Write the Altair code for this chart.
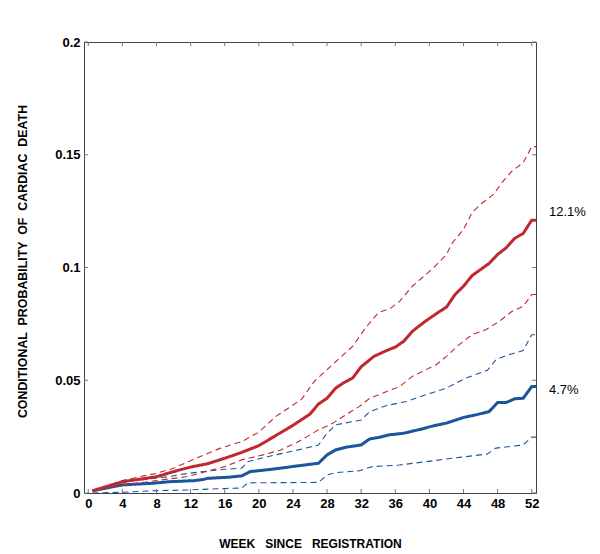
import altair as alt
import pandas as pd

# ---- data ----
red_est_x = [0.5, 4, 8, 10, 12, 14, 16, 18, 20, 22, 24, 26, 27, 28, 29, 30, 31, 32, 33.5, 35, 36, 37, 38, 39.5, 41, 42, 43, 44, 45, 46, 47, 48, 49, 50, 51, 52, 52.5]
red_est_y = [0.001, 0.005, 0.0072, 0.0095, 0.0115, 0.013, 0.0154, 0.018, 0.021, 0.0255, 0.03, 0.035, 0.0395, 0.042, 0.0465, 0.049, 0.051, 0.056, 0.0606, 0.0632, 0.0647, 0.0673, 0.0717, 0.0761, 0.08, 0.0824, 0.088, 0.0917, 0.0964, 0.0991, 0.1018, 0.1058, 0.1087, 0.1129, 0.1151, 0.121, 0.121]

red_hi_x = [0.5, 2, 4, 6, 8, 10, 11.5, 13, 15.5, 18, 20, 22, 24, 25, 26.5, 28, 29.5, 31, 32.5, 34, 35.5, 36.5, 38, 40.5, 42, 42.7, 44, 45, 46, 47.5, 48.5, 49.7, 51, 52, 52.5]
red_hi_y = [0.001, 0.003, 0.0055, 0.0072, 0.0087, 0.011, 0.0135, 0.016, 0.0199, 0.0228, 0.027, 0.034, 0.039, 0.0415, 0.0495, 0.0547, 0.0599, 0.065, 0.0732, 0.0799, 0.0821, 0.085, 0.0917, 0.0999, 0.1058, 0.111, 0.1169, 0.1243, 0.128, 0.1324, 0.1376, 0.1428, 0.1465, 0.1536, 0.1536]

red_lo_x = [0.5, 4, 8, 10, 11.5, 13.5, 16, 18, 20.5, 22.5, 24.5, 27, 28.7, 30.2, 31.8, 33, 35, 36.5, 38, 39.6, 40.8, 42, 43.5, 45, 46.6, 48.2, 49.7, 51, 52, 52.5]
red_lo_y = [0.001, 0.0036, 0.0055, 0.0065, 0.0072, 0.0092, 0.0117, 0.0147, 0.0169, 0.019, 0.0225, 0.028, 0.031, 0.0347, 0.0384, 0.042, 0.045, 0.0472, 0.0517, 0.0547, 0.0569, 0.0606, 0.0658, 0.0702, 0.0724, 0.0761, 0.0806, 0.0828, 0.088, 0.088]

blue_est_x = [0.5, 4, 7.5, 9.5, 12.5, 13.5, 14, 16.5, 18, 19, 21.5, 24.5, 27, 28, 29, 30.2, 32, 33, 34, 35.3, 37, 39, 40.5, 42, 44, 45.5, 47, 48, 49, 50, 51, 52, 52.5]
blue_est_y = [0.001, 0.0036, 0.0043, 0.005, 0.0055, 0.006, 0.0065, 0.007, 0.0076, 0.0095, 0.0105, 0.012, 0.0132, 0.0169, 0.0191, 0.0203, 0.0213, 0.024, 0.0246, 0.0258, 0.0265, 0.0283, 0.0298, 0.031, 0.0335, 0.0347, 0.0361, 0.0401, 0.0401, 0.0418, 0.042, 0.0472, 0.0472]

blue_hi_x = [0.5, 2.7, 4.3, 9.3, 11.3, 13.5, 16, 18, 18.7, 21, 24.5, 27, 28, 29, 32, 33, 35, 37.3, 39.6, 42, 44.3, 46.8, 47.8, 49, 51, 52, 52.5]
blue_hi_y = [0.001, 0.0028, 0.005, 0.0072, 0.0085, 0.0095, 0.0105, 0.011, 0.0139, 0.0161, 0.019, 0.0213, 0.0265, 0.0302, 0.0324, 0.0361, 0.0388, 0.0406, 0.0436, 0.0465, 0.051, 0.0544, 0.0591, 0.0609, 0.0632, 0.0702, 0.0702]

blue_lo_x = [0.5, 4, 7.5, 11.5, 16, 18, 18.7, 27, 28, 29, 31.8, 33.3, 36.5, 39.6, 42.7, 46.8, 47.8, 51, 52, 52.5]
blue_lo_y = [0.0, 0.0003, 0.001, 0.0013, 0.002, 0.0022, 0.0045, 0.0047, 0.008, 0.009, 0.0099, 0.0117, 0.0124, 0.0139, 0.0154, 0.0173, 0.0199, 0.0213, 0.0248, 0.0248]

x_ticks = list(range(0, 53, 4))
y_ticks = [0, 0.05, 0.1, 0.15, 0.2]

end_labels = ["12.1%", "4.7%"]
end_values = [0.121, 0.047]

RED = "#c0282d"
BLUE = "#1b559b"
FONT = "Liberation Sans"
W, H = 452, 451
SP = " \u00a0\u00a0"

rows = []
for name, grp, kind, xs, ys in [
    ("blue_lo", "blue", "ci", blue_lo_x, blue_lo_y),
    ("blue_hi", "blue", "ci", blue_hi_x, blue_hi_y),
    ("blue_est", "blue", "est", blue_est_x, blue_est_y),
    ("red_lo", "red", "ci", red_lo_x, red_lo_y),
    ("red_hi", "red", "ci", red_hi_x, red_hi_y),
    ("red_est", "red", "est", red_est_x, red_est_y),
]:
    for i, (xv, yv) in enumerate(zip(xs, ys)):
        rows.append({"series": name, "group": grp, "kind": kind, "week": xv, "p": yv, "order": i})
df = pd.DataFrame(rows)

xscale = alt.Scale(domain=[-0.5, 52.5], nice=False, zero=False)
yscale = alt.Scale(domain=[0, 0.2], nice=False)

X_AXIS = alt.Axis(values=x_ticks, ticks=False, domain=False, grid=False,
                  labelOverlap=False, labelFlush=False,
                  labelFont=FONT, labelFontWeight="bold", labelFontSize=13,
                  labelColor="black", labelPadding=4,
                  title="WEEK" + SP + "SINCE" + SP + "REGISTRATION", titleFont=FONT,
                  titleFontWeight="bold", titleFontSize=12, titleColor="black",
                  titleBaseline="alphabetic", titleY=54)
Y_AXIS = alt.Axis(values=y_ticks, format="~g", ticks=False, domain=False, grid=False,
                  labelOverlap=False, labelFlush=False,
                  labelFont=FONT, labelFontWeight="bold", labelFontSize=13,
                  labelColor="black", labelPadding=4,
                  title="CONDITIONAL \u00a0PROBABILITY \u00a0OF \u00a0CARDIAC \u00a0DEATH",
                  titleFont=FONT, titleFontWeight="bold", titleFontSize=12.4,
                  titleColor="black", titleX=-55, titleY=219)

lines = alt.Chart(df).mark_line(clip=True).encode(
    x=alt.X("week:Q", scale=xscale, axis=X_AXIS),
    y=alt.Y("p:Q", scale=yscale, axis=Y_AXIS),
    color=alt.Color("group:N", scale=alt.Scale(domain=["red", "blue"], range=[RED, BLUE]), legend=None),
    strokeDash=alt.StrokeDash("kind:N", scale=alt.Scale(domain=["est", "ci"], range=[[1, 0], [6, 4]]), legend=None),
    strokeWidth=alt.StrokeWidth("kind:N", scale=alt.Scale(domain=["est", "ci"], range=[3, 1.1]), legend=None),
    detail="series:N",
    order="order:Q",
)

xt = pd.DataFrame({"t": x_ticks})
yt = pd.DataFrame({"t": y_ticks})
TICK = "#777777"
xtick_bot = alt.Chart(xt).mark_rule(color=TICK, strokeWidth=1).encode(
    x=alt.X("t:Q", scale=xscale, axis=X_AXIS), y=alt.value(H), y2=alt.value(H - 4))
xtick_top = alt.Chart(xt).mark_rule(color=TICK, strokeWidth=1).encode(
    x=alt.X("t:Q", scale=xscale, axis=X_AXIS), y=alt.value(0), y2=alt.value(4))
ytick_l = alt.Chart(yt).mark_rule(color=TICK, strokeWidth=1).encode(
    y=alt.Y("t:Q", scale=yscale, axis=Y_AXIS), x=alt.value(0), x2=alt.value(4))
ytick_r = alt.Chart(yt).mark_rule(color=TICK, strokeWidth=1).encode(
    y=alt.Y("t:Q", scale=yscale, axis=Y_AXIS), x=alt.value(W), x2=alt.value(W - 4))

lab_df = pd.DataFrame({"label": end_labels, "p": end_values})
lab1 = alt.Chart(lab_df[lab_df.label == end_labels[0]]).mark_text(
    align="left", baseline="middle", font=FONT, fontSize=13, color="black", dx=13, dy=-8
).encode(x=alt.value(W), y=alt.Y("p:Q", scale=yscale, axis=Y_AXIS), text="label:N")
lab2 = alt.Chart(lab_df[lab_df.label == end_labels[1]]).mark_text(
    align="left", baseline="middle", font=FONT, fontSize=13, color="black", dx=13, dy=3
).encode(x=alt.value(W), y=alt.Y("p:Q", scale=yscale, axis=Y_AXIS), text="label:N")

chart = alt.layer(lines, xtick_bot, xtick_top, ytick_l, ytick_r, lab1, lab2).properties(
    width=W, height=H,
    autosize=alt.AutoSizeParams(type="none"),
    padding={"left": 76, "top": 34, "right": 56, "bottom": 56},
    background="white",
).configure_view(stroke="#444444", strokeWidth=1)

chart.save("out.html", embed_options={"renderer": "svg", "actions": False})
